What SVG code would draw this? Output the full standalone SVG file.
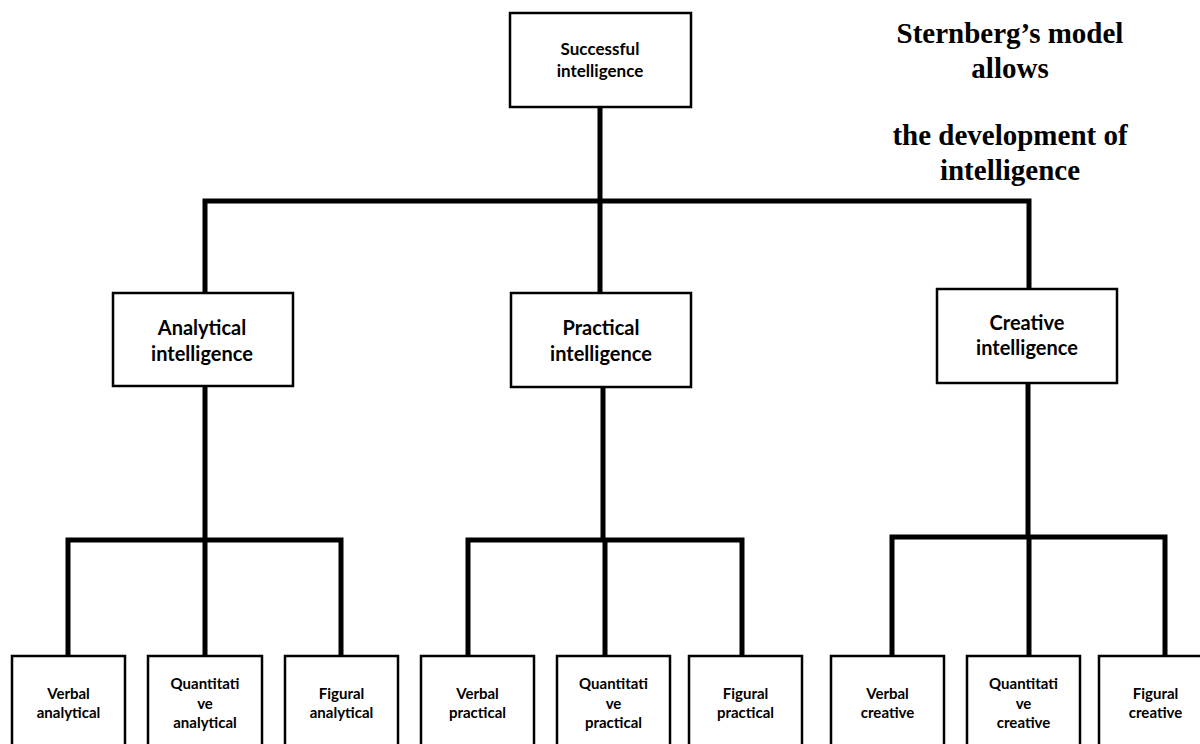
<svg xmlns="http://www.w3.org/2000/svg" width="1200" height="744" viewBox="0 0 1200 744">
<style>
.box{fill:#fff;stroke:#000;stroke-width:2.5}
.con{fill:none;stroke:#000;stroke-width:5;stroke-linecap:square}
.t{font-family:Lato,"Liberation Sans",sans-serif;font-weight:bold;fill:#000;text-anchor:middle}
.t1{font-size:17px}
.t2{font-size:20px}
.t3{font-size:15px}
.note{font-family:"Liberation Serif","Times New Roman",serif;font-weight:bold;font-size:29px;fill:#000;text-anchor:middle}
</style>
<rect width="1200" height="744" fill="#fff"/>
<g id="connectors">
<path class="con" d="M600,107 V293 M205,201 H1029 M205,201 V293 M1029,201 V289"/>
<path class="con" d="M205,386 V540 M68,540 H341 M68,540 V656 M205,540 V656 M341,540 V656"/>
<path class="con" d="M603,387 V540 M468,540 H742 M468,540 V656 M605,540 V656 M742,540 V656"/>
<path class="con" d="M1028,383 V537 M892,537 H1165 M892,537 V656 M1029,537 V656 M1165,537 V656"/>
</g>
<g id="successful">
<rect class="box" x="510" y="13" width="181" height="94"/>
<text class="t t1" x="600" y="55">Successful</text>
<text class="t t1" x="600" y="77">intelligence</text>
</g>
<g id="analytical">
<rect class="box" x="113" y="293" width="180" height="93"/>
<text class="t t2" x="202" y="335">Analytical</text>
<text class="t t2" x="202" y="361">intelligence</text>
</g>
<g id="practical">
<rect class="box" x="511" y="293" width="180" height="94"/>
<text class="t t2" x="601" y="335">Practical</text>
<text class="t t2" x="601" y="361">intelligence</text>
</g>
<g id="creative">
<rect class="box" x="937" y="289" width="180" height="94"/>
<text class="t t2" x="1027" y="330">Creative</text>
<text class="t t2" x="1027" y="355">intelligence</text>
</g>
<g id="verbal-analytical">
<rect class="box" x="12" y="656" width="113" height="110"/>
<text class="t t3" x="68.5" y="699">Verbal</text>
<text class="t t3" x="68.5" y="718">analytical</text>
</g>
<g id="quantitative-analytical">
<rect class="box" x="148" y="656" width="114" height="110"/>
<text class="t t3" x="205" y="689">Quantitati</text>
<text class="t t3" x="205" y="709">ve</text>
<text class="t t3" x="205" y="728">analytical</text>
</g>
<g id="figural-analytical">
<rect class="box" x="285" y="656" width="113" height="110"/>
<text class="t t3" x="341.5" y="699">Figural</text>
<text class="t t3" x="341.5" y="718">analytical</text>
</g>
<g id="verbal-practical">
<rect class="box" x="421" y="656" width="113" height="110"/>
<text class="t t3" x="477.5" y="699">Verbal</text>
<text class="t t3" x="477.5" y="718">practical</text>
</g>
<g id="quantitative-practical">
<rect class="box" x="557" y="656" width="113" height="110"/>
<text class="t t3" x="613.5" y="689">Quantitati</text>
<text class="t t3" x="613.5" y="709">ve</text>
<text class="t t3" x="613.5" y="728">practical</text>
</g>
<g id="figural-practical">
<rect class="box" x="689" y="656" width="113" height="110"/>
<text class="t t3" x="745.5" y="699">Figural</text>
<text class="t t3" x="745.5" y="718">practical</text>
</g>
<g id="verbal-creative">
<rect class="box" x="831" y="656" width="113" height="110"/>
<text class="t t3" x="887.5" y="699">Verbal</text>
<text class="t t3" x="887.5" y="718">creative</text>
</g>
<g id="quantitative-creative">
<rect class="box" x="967" y="656" width="113" height="110"/>
<text class="t t3" x="1023.5" y="689">Quantitati</text>
<text class="t t3" x="1023.5" y="709">ve</text>
<text class="t t3" x="1023.5" y="728">creative</text>
</g>
<g id="figural-creative">
<rect class="box" x="1099" y="656" width="113" height="110"/>
<text class="t t3" x="1155.5" y="699">Figural</text>
<text class="t t3" x="1155.5" y="718">creative</text>
</g>
<g id="note">
<text class="note" x="1010" y="43">Sternberg’s model</text>
<text class="note" x="1010" y="78">allows</text>
<text class="note" x="1010" y="145">the development of</text>
<text class="note" x="1010" y="180">intelligence</text>
</g>
</svg>
